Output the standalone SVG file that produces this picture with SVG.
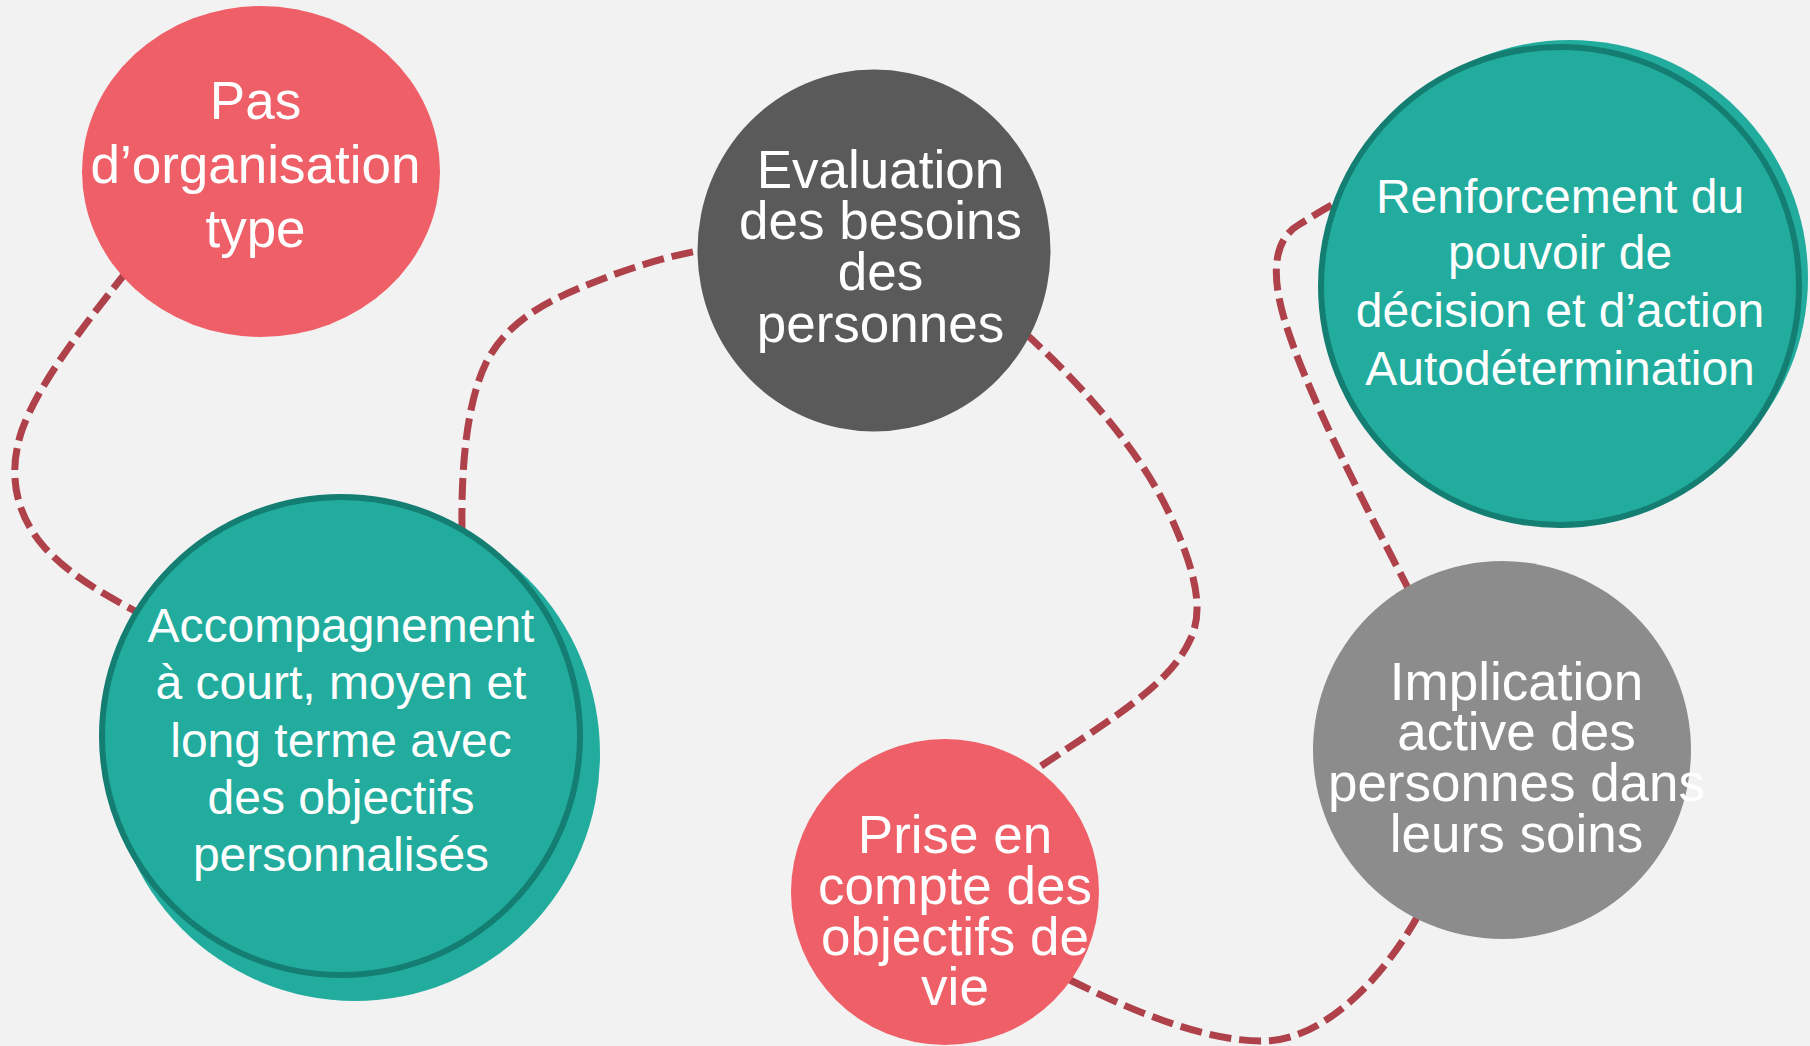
<svg xmlns="http://www.w3.org/2000/svg" width="1810" height="1046" viewBox="0 0 1810 1046">
  <style>
    .link { fill: none; stroke: #ae4149; stroke-width: 7; stroke-dasharray: 22 8; }
    .label { font-family: "Liberation Sans", Arial, sans-serif; fill: #ffffff; text-anchor: middle; }
    .big { font-size: 53px; }
    .mid { font-size: 48px; }
    .red { fill: #ef5f67; }
    .teal { fill: #21ac9e; }
    .ring { fill: #21ac9e; stroke: #147e72; stroke-width: 6; }
  </style>
  <rect x="0" y="0" width="1810" height="1046" fill="#f2f2f2"/>

  <!-- dashed links between the circles -->
  <g id="connectors">
    <path class="link" d="M127,271 C90,318 40,380 22,430 C5,480 20,520 45,548 C70,575 100,592 135,611"/>
    <path class="link" d="M462,530 C461,460 468,400 486,363 C505,325 540,305 575,290 C615,273 655,259 702,250"/>
    <path class="link" d="M1025,333 C1080,383 1140,450 1170,515 C1195,570 1205,610 1190,640 C1170,685 1110,720 1038,768"/>
    <path class="link" d="M1070,980 C1140,1015 1210,1042 1265,1041 C1320,1040 1380,985 1420,912"/>
    <path class="link" d="M1410,592 C1365,505 1305,390 1284,318 C1270,270 1275,238 1300,224 C1312,217 1325,208 1340,201"/>
  </g>

  <g id="node-pas-organisation">
    <ellipse class="red" cx="261" cy="171.5" rx="179" ry="165.5"/>
    <text class="label big" x="255.5" y="119">Pas</text>
    <text class="label big" x="255.5" y="183">d’organisation</text>
    <text class="label big" x="255.5" y="247">type</text>
  </g>

  <g id="node-evaluation">
    <ellipse cx="874" cy="250.5" rx="176.5" ry="181" fill="#5a5a5a"/>
    <text class="label big" x="880.5" y="188">Evaluation</text>
    <text class="label big" x="880.5" y="239">des besoins</text>
    <text class="label big" x="880.5" y="290">des</text>
    <text class="label big" x="880.5" y="341.5">personnes</text>
  </g>

  <g id="node-accompagnement">
    <ellipse class="teal" cx="355" cy="754" rx="245" ry="247"/>
    <circle class="ring" cx="341" cy="736" r="239"/>
    <text class="label mid" x="341" y="641.5">Accompagnement</text>
    <text class="label mid" x="341" y="699">à court, moyen et</text>
    <text class="label mid" x="341" y="756.5">long terme avec</text>
    <text class="label mid" x="341" y="814">des objectifs</text>
    <text class="label mid" x="341" y="871">personnalisés</text>
  </g>

  <g id="node-renforcement">
    <circle class="teal" cx="1570" cy="278" r="238"/>
    <circle class="ring" cx="1560" cy="286" r="239"/>
    <text class="label mid" x="1560" y="212.5">Renforcement du</text>
    <text class="label mid" x="1560" y="269">pouvoir de</text>
    <text class="label mid" x="1560" y="327">décision et d’action</text>
    <text class="label mid" x="1560" y="385">Autodétermination</text>
  </g>

  <g id="node-prise-en-compte">
    <ellipse class="red" cx="945" cy="892" rx="154" ry="153"/>
    <text class="label big" x="955" y="852.5">Prise en</text>
    <text class="label big" x="955" y="904">compte des</text>
    <text class="label big" x="955" y="954.5">objectifs de</text>
    <text class="label big" x="955" y="1005">vie</text>
  </g>

  <g id="node-implication">
    <circle cx="1502" cy="750" r="189" fill="#8c8c8c"/>
    <text class="label big" x="1516.5" y="699.5">Implication</text>
    <text class="label big" x="1516.5" y="750">active des</text>
    <text class="label big" x="1516.5" y="800.5">personnes dans</text>
    <text class="label big" x="1516.5" y="852">leurs soins</text>
  </g>
</svg>
